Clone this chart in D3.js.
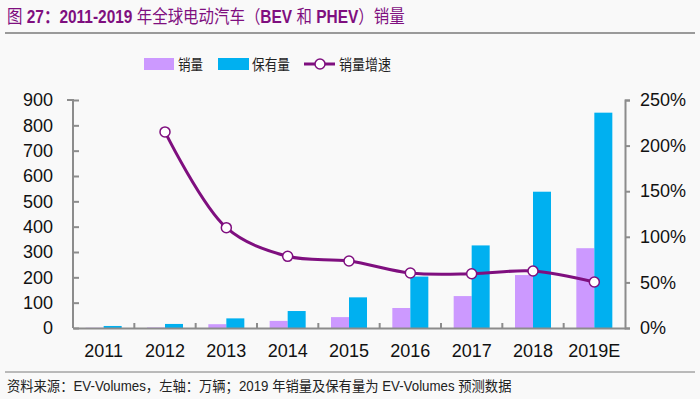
<!DOCTYPE html>
<html>
<head>
<meta charset="utf-8">
<script src="https://cdn.jsdelivr.net/npm/d3@7"></script>
<style>
  body { margin: 0; background: #f9f9f9; }
  svg { display: block; font-family: "Liberation Sans", Arial, sans-serif; }
  .cjk { font-family: "Noto Sans CJK SC", sans-serif; }
</style>
</head>
<body>
<div id="chart"></div>
<script>
const years = ['2011', '2012', '2013', '2014', '2015', '2016', '2017', '2018', '2019E']
const sales = [1, 2, 15, 28, 43, 79, 126, 209, 315]
const stock = [8, 16, 38, 67, 121, 203, 326, 538, 850]
const growth = [null, 2.15, 1.10, 0.786, 0.735, 0.603, 0.595, 0.625, 0.504]
const leftTicks = [0, 100, 200, 300, 400, 500, 600, 700, 800, 900]
const rightTicks = [0, 0.5, 1, 1.5, 2, 2.5]

const W = 700, H = 399
const margin = { top: 100, right: 75, bottom: 71, left: 73 }
const width = W - margin.left - margin.right
const height = H - margin.top - margin.bottom

const purple = '#7f0f7f'
const axisColor = '#8c8c8c'

const svg = d3.select('#chart').append('svg')
    .attr('width', W)
    .attr('height', H)

svg.append('rect').attr('width', W).attr('height', H).attr('fill', '#f9f9f9')

// squeeze a text horizontally to a target width (the reference text is narrow)
function squeeze(x, y, target, size, html, fill, bold) {
    const grp = svg.append('g')
    const t = grp.append('text')
        .attr('fill', fill)
        .style('font-size', size + 'px')
        .style('font-weight', bold ? 'bold' : 'normal')
        .html(html)
    const w = t.node().getComputedTextLength()
    grp.attr('transform', `translate(${x},${y}) scale(${target / w},1)`)
    return grp
}

// title
squeeze(7, 23, 398, 18,
    '<tspan class="cjk" font-weight="normal">图</tspan> 27<tspan class="cjk">：</tspan>2011-2019 <tspan class="cjk" font-weight="normal">年全球电动汽车（</tspan>BEV <tspan class="cjk" font-weight="normal">和</tspan> PHEV<tspan class="cjk" font-weight="normal">）销量</tspan>',
    purple, true)

svg.append('line')
    .attr('x1', 5).attr('x2', 695)
    .attr('y1', 33).attr('y2', 33)
    .attr('stroke', '#7a7a7a').attr('stroke-width', 1.5)

// footer
svg.append('line')
    .attr('x1', 5).attr('x2', 695)
    .attr('y1', 372).attr('y2', 372)
    .attr('stroke', '#7a7a7a').attr('stroke-width', 1)

squeeze(7, 391, 505, 14,
    '<tspan class="cjk">资料来源：</tspan>EV-Volumes<tspan class="cjk">，左轴：万辆；</tspan>2019 <tspan class="cjk">年销量及保有量为</tspan> EV-Volumes <tspan class="cjk">预测数据</tspan>',
    '#222', false)

const g = svg.append('g')
    .attr('transform', `translate(${margin.left},${margin.top})`)

const xScale = d3.scaleBand().domain(years).range([0, width])
const yLeft = d3.scaleLinear().domain([0, 900]).range([height, 0])
const yRight = d3.scaleLinear().domain([0, 2.5]).range([height, 0])
const barW = 18

// bars
g.selectAll('.sales')
    .data(years)
    .enter().append('rect')
    .attr('class', 'sales')
    .attr('x', d => xScale(d) + xScale.bandwidth() / 2 - barW)
    .attr('width', barW)
    .attr('y', (d, i) => yLeft(sales[i]))
    .attr('height', (d, i) => height - yLeft(sales[i]))
    .attr('fill', '#cc99ff')

g.selectAll('.stock')
    .data(years)
    .enter().append('rect')
    .attr('class', 'stock')
    .attr('x', d => xScale(d) + xScale.bandwidth() / 2)
    .attr('width', barW)
    .attr('y', (d, i) => yLeft(stock[i]))
    .attr('height', (d, i) => height - yLeft(stock[i]))
    .attr('fill', '#00b0f0')

// axes
const leftAxis = g.append('g')
    .call(d3.axisLeft(yLeft).tickValues(leftTicks).tickSize(-6).tickPadding(20))
leftAxis.select('.domain').attr('d', `M-6,0H0V${height}`)

const rightAxis = g.append('g')
    .attr('transform', `translate(${width},0)`)
    .call(d3.axisRight(yRight).tickValues(rightTicks).tickSize(5).tickPadding(10)
        .tickFormat(d => Math.round(d * 100) + '%'))

const bottomAxis = g.append('g')
    .attr('transform', `translate(0,${height})`)
    .call(d3.axisBottom(xScale).tickSize(0).tickPadding(16))

bottomAxis.selectAll('.boundary')
    .data(years.slice(1))
    .enter().append('line')
    .attr('class', 'boundary')
    .attr('x1', d => xScale(d)).attr('x2', d => xScale(d))
    .attr('y1', 0).attr('y2', -5)

;[leftAxis, rightAxis, bottomAxis].forEach(a => {
    a.selectAll('.domain').attr('stroke', axisColor).attr('stroke-width', 2)
    a.selectAll('line').attr('stroke', axisColor).attr('stroke-width', 2)
    a.selectAll('text').attr('fill', '#111').style('font-size', '18px')
        .style('font-family', '"Liberation Sans", Arial, sans-serif')
})
leftAxis.selectAll('.tick line').attr('x2', 6)

// growth line
const pts = years.map((y, i) => ({ y, v: growth[i] })).filter(d => d.v !== null)
const line = d3.line()
    .x(d => xScale(d.y) + xScale.bandwidth() / 2)
    .y(d => yRight(d.v))
    .curve(d3.curveCatmullRom.alpha(0.5))

g.append('path')
    .datum(pts)
    .attr('d', line)
    .attr('fill', 'none')
    .attr('stroke', purple)
    .attr('stroke-width', 3)

g.selectAll('.dot')
    .data(pts)
    .enter().append('circle')
    .attr('class', 'dot')
    .attr('cx', d => xScale(d.y) + xScale.bandwidth() / 2)
    .attr('cy', d => yRight(d.v))
    .attr('r', 5)
    .attr('fill', '#fff')
    .attr('stroke', purple)
    .attr('stroke-width', 1.5)

// legend
const legend = svg.append('g').attr('class', 'cjk').style('font-size', '15px')
legend.append('rect').attr('x', 144).attr('y', 58).attr('width', 30).attr('height', 12).attr('fill', '#cc99ff')
legend.append('text').attr('x', 178).attr('y', 70).attr('fill', '#222')
    .attr('textLength', 25).attr('lengthAdjust', 'spacingAndGlyphs').text('销量')
legend.append('rect').attr('x', 218).attr('y', 58).attr('width', 31).attr('height', 12).attr('fill', '#00b0f0')
legend.append('text').attr('x', 252).attr('y', 70).attr('fill', '#222')
    .attr('textLength', 38).attr('lengthAdjust', 'spacingAndGlyphs').text('保有量')
legend.append('line').attr('x1', 304).attr('x2', 335).attr('y1', 64).attr('y2', 64)
    .attr('stroke', purple).attr('stroke-width', 3)
legend.append('circle').attr('cx', 320).attr('cy', 64).attr('r', 5)
    .attr('fill', '#fff').attr('stroke', purple).attr('stroke-width', 1.5)
legend.append('text').attr('x', 339).attr('y', 70).attr('fill', '#222')
    .attr('textLength', 52).attr('lengthAdjust', 'spacingAndGlyphs').text('销量增速')
</script>
</body>
</html>
